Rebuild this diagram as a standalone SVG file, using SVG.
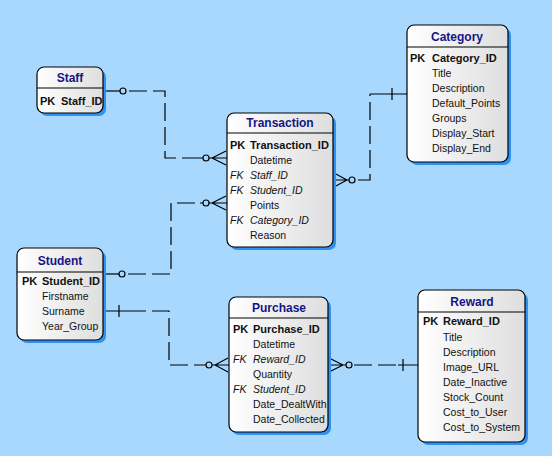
<svg xmlns="http://www.w3.org/2000/svg" width="552" height="456" viewBox="0 0 552 456">
<defs>
<linearGradient id="g" x1="0" y1="0" x2="1" y2="0">
<stop offset="0" stop-color="#ffffff"/>
<stop offset="1" stop-color="#dedede"/>
</linearGradient>
<style>
.sh{fill:#2f92f2}
.bx{fill:url(#g);stroke:#000;stroke-width:1.2}
.hl{stroke:#000;stroke-width:1.2}
.tt{font-family:"Liberation Sans",Arial,sans-serif;font-size:12px;font-weight:bold;fill:#151587;text-anchor:middle}
.f{font-family:"Liberation Sans",Arial,sans-serif;font-size:10.5px;fill:#111}
.b{font-weight:bold;font-size:11px}
.i{font-style:italic}
.c{fill:none;stroke:#000;stroke-width:1.2}
.d{fill:none;stroke:#000;stroke-width:1.2;stroke-dasharray:18 6}
.o{fill:#a9d8ff;stroke:#000;stroke-width:1.2}
</style>
</defs>
<rect width="552" height="456" fill="#a9d8ff"/>

<g id="connectors">
<!-- Staff to Transaction -->
<path class="c" d="M103,91H120"/>
<circle class="o" cx="123" cy="91" r="3"/>
<path class="d" d="M129,91H165V158H200"/>
<path class="c" d="M200,158H203M209,158H227M212,158L226,151M212,158L226,165"/>
<circle class="o" cx="206" cy="158" r="3"/>
<!-- Transaction to Category -->
<path class="c" d="M333,180H349M347,180L334,173M347,180L334,187"/>
<circle class="o" cx="352" cy="180" r="3"/>
<path class="d" d="M358,180H370V94"/>
<path class="c" d="M370,94H407M392,88V100"/>
<!-- Student to Transaction -->
<path class="c" d="M103,274H119"/>
<circle class="o" cx="122" cy="274" r="3"/>
<path class="d" d="M128,274H171V203H200"/>
<path class="c" d="M200,203H203M209,203H227M212,203L226,196M212,203L226,210"/>
<circle class="o" cx="206" cy="203" r="3"/>
<!-- Student to Purchase -->
<path class="c" d="M103,311H128M119,305V317"/>
<path class="d" d="M128,311H169V365H203"/>
<path class="c" d="M203,365H206M212,365H229M215,365L228,358M215,365L228,372"/>
<circle class="o" cx="209" cy="365" r="3"/>
<!-- Purchase to Reward -->
<path class="c" d="M328,365H346M343,365L329,358M343,365L329,372"/>
<circle class="o" cx="349" cy="365" r="3"/>
<path class="d" d="M354,365H398"/>
<path class="c" d="M398,365H418M403,359V371"/>
</g>

<g id="staff">
<rect class="sh" x="40" y="70" width="66" height="46" rx="7"/>
<rect class="bx" x="37" y="67" width="66" height="46" rx="7"/>
<line class="hl" x1="37" y1="88" x2="103" y2="88"/>
<text class="tt" x="70" y="82">Staff</text>
<text class="f b" x="40" y="105">PK</text>
<text class="f b" x="61" y="105">Staff_ID</text>
</g>

<g id="transaction">
<rect class="sh" x="230" y="116" width="106" height="134" rx="7"/>
<rect class="bx" x="227" y="113" width="106" height="134" rx="7"/>
<line class="hl" x1="227" y1="133" x2="333" y2="133"/>
<text class="tt" x="280" y="127">Transaction</text>
<text class="f b" x="230" y="149">PK</text>
<text class="f b" x="250" y="149">Transaction_ID</text>
<text class="f" x="250" y="164">Datetime</text>
<text class="f i" x="230" y="179">FK</text>
<text class="f i" x="250" y="179">Staff_ID</text>
<text class="f i" x="230" y="194">FK</text>
<text class="f i" x="250" y="194">Student_ID</text>
<text class="f" x="250" y="209">Points</text>
<text class="f i" x="230" y="224">FK</text>
<text class="f i" x="250" y="224">Category_ID</text>
<text class="f" x="250" y="239">Reason</text>
</g>

<g id="category">
<rect class="sh" x="410" y="28" width="101" height="137" rx="7"/>
<rect class="bx" x="407" y="25" width="101" height="137" rx="7"/>
<line class="hl" x1="407" y1="47" x2="508" y2="47"/>
<text class="tt" x="457" y="41">Category</text>
<text class="f b" x="410" y="62">PK</text>
<text class="f b" x="432" y="62">Category_ID</text>
<text class="f" x="432" y="77">Title</text>
<text class="f" x="432" y="92">Description</text>
<text class="f" x="432" y="107">Default_Points</text>
<text class="f" x="432" y="122">Groups</text>
<text class="f" x="432" y="137">Display_Start</text>
<text class="f" x="432" y="152">Display_End</text>
</g>

<g id="student">
<rect class="sh" x="20" y="251" width="86" height="92" rx="7"/>
<rect class="bx" x="17" y="248" width="86" height="92" rx="7"/>
<line class="hl" x1="17" y1="272" x2="103" y2="272"/>
<text class="tt" x="60" y="265">Student</text>
<text class="f b" x="22" y="285">PK</text>
<text class="f b" x="42" y="285">Student_ID</text>
<text class="f" x="42" y="300">Firstname</text>
<text class="f" x="42" y="315">Surname</text>
<text class="f" x="42" y="330">Year_Group</text>
</g>

<g id="purchase">
<rect class="sh" x="232" y="300" width="99" height="135" rx="7"/>
<rect class="bx" x="229" y="297" width="99" height="135" rx="7"/>
<line class="hl" x1="229" y1="318" x2="328" y2="318"/>
<text class="tt" x="279" y="312">Purchase</text>
<text class="f b" x="233" y="333">PK</text>
<text class="f b" x="253" y="333">Purchase_ID</text>
<text class="f" x="253" y="348">Datetime</text>
<text class="f i" x="233" y="363">FK</text>
<text class="f i" x="253" y="363">Reward_ID</text>
<text class="f" x="253" y="378">Quantity</text>
<text class="f i" x="233" y="393">FK</text>
<text class="f i" x="253" y="393">Student_ID</text>
<text class="f" x="253" y="408">Date_DealtWith</text>
<text class="f" x="253" y="423">Date_Collected</text>
</g>

<g id="reward">
<rect class="sh" x="421" y="293" width="107" height="152" rx="7"/>
<rect class="bx" x="418" y="290" width="107" height="152" rx="7"/>
<line class="hl" x1="418" y1="312" x2="525" y2="312"/>
<text class="tt" x="472" y="306">Reward</text>
<text class="f b" x="423" y="325">PK</text>
<text class="f b" x="443" y="325">Reward_ID</text>
<text class="f" x="443" y="341">Title</text>
<text class="f" x="443" y="356">Description</text>
<text class="f" x="443" y="371">Image_URL</text>
<text class="f" x="443" y="386">Date_Inactive</text>
<text class="f" x="443" y="401">Stock_Count</text>
<text class="f" x="443" y="416">Cost_to_User</text>
<text class="f" x="443" y="431">Cost_to_System</text>
</g>
</svg>
